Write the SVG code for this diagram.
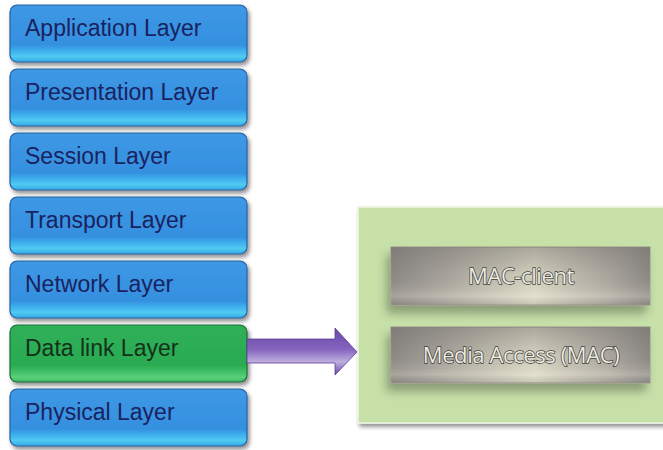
<svg xmlns="http://www.w3.org/2000/svg" width="663" height="450" viewBox="0 0 663 450">
<style>
.lbl{font-family:"Liberation Sans",Arial,sans-serif;font-size:23px;fill:#1a2260}
.dl{fill:#15301b}
.mac{font-family:"Open Sans","Liberation Sans",sans-serif;font-size:22px;fill:#ecebe2;stroke:#3e3d38;stroke-width:1.4;paint-order:stroke;text-anchor:middle;letter-spacing:-0.4px}
</style>
<defs>
<linearGradient id="gb" x1="0" y1="0" x2="0" y2="1">
<stop offset="0" stop-color="#3d98e4"/>
<stop offset="0.7" stop-color="#3590e0"/>
<stop offset="0.78" stop-color="#3aa8ea"/>
<stop offset="0.9" stop-color="#4ecbf2"/>
<stop offset="1" stop-color="#3aa6e4"/>
</linearGradient>
<linearGradient id="gg" x1="0" y1="0" x2="0" y2="1">
<stop offset="0" stop-color="#2fb058"/>
<stop offset="0.7" stop-color="#2aab52"/>
<stop offset="0.8" stop-color="#3cbc62"/>
<stop offset="0.92" stop-color="#5ad07a"/>
<stop offset="1" stop-color="#3cb662"/>
</linearGradient>
<linearGradient id="ga" x1="0" y1="0" x2="0" y2="1">
<stop offset="0" stop-color="#6a48a8"/>
<stop offset="0.45" stop-color="#8464be"/>
<stop offset="0.72" stop-color="#bfaede"/>
<stop offset="1" stop-color="#6a48a8"/>
</linearGradient>
<linearGradient id="gmh" x1="0" y1="0" x2="1" y2="0">
<stop offset="0" stop-color="#8e8a86"/>
<stop offset="0.15" stop-color="#a4a09a"/>
<stop offset="0.55" stop-color="#dedcc8"/>
<stop offset="0.85" stop-color="#aeaaa2"/>
<stop offset="1" stop-color="#8e8a86"/>
</linearGradient>
<linearGradient id="gmv" x1="0" y1="0" x2="0" y2="1">
<stop offset="0" stop-color="#6e6a66" stop-opacity="0.45"/>
<stop offset="0.5" stop-color="#6e6a66" stop-opacity="0.1"/>
<stop offset="0.85" stop-color="#f4f2e0" stop-opacity="0.25"/>
<stop offset="1" stop-color="#6e6a66" stop-opacity="0.2"/>
</linearGradient>
<filter id="sh" x="-10%" y="-10%" width="130%" height="140%">
<feGaussianBlur in="SourceAlpha" stdDeviation="2"/>
<feOffset dx="2" dy="3"/>
<feComponentTransfer><feFuncA type="linear" slope="0.45"/></feComponentTransfer>
<feMerge><feMergeNode/><feMergeNode in="SourceGraphic"/></feMerge>
</filter>
<filter id="sh2" x="-20%" y="-20%" width="140%" height="160%">
<feGaussianBlur in="SourceAlpha" stdDeviation="5"/>
<feOffset dx="-4" dy="8"/>
<feComponentTransfer><feFuncA type="linear" slope="0.3"/></feComponentTransfer>
<feMerge><feMergeNode/><feMergeNode in="SourceGraphic"/></feMerge>
</filter>
</defs>

<g id="application">
<rect x="10" y="5" width="237" height="57" rx="7" fill="url(#gb)" stroke="#2a5fa0" stroke-width="1.2" filter="url(#sh)"/>
<text class="lbl" x="25" y="36">Application Layer</text>
</g>
<g id="presentation">
<rect x="10" y="69" width="237" height="57" rx="7" fill="url(#gb)" stroke="#2a5fa0" stroke-width="1.2" filter="url(#sh)"/>
<text class="lbl" x="25" y="100">Presentation Layer</text>
</g>
<g id="session">
<rect x="10" y="133" width="237" height="57" rx="7" fill="url(#gb)" stroke="#2a5fa0" stroke-width="1.2" filter="url(#sh)"/>
<text class="lbl" x="25" y="164">Session Layer</text>
</g>
<g id="transport">
<rect x="10" y="197" width="237" height="57" rx="7" fill="url(#gb)" stroke="#2a5fa0" stroke-width="1.2" filter="url(#sh)"/>
<text class="lbl" x="25" y="228">Transport Layer</text>
</g>
<g id="network">
<rect x="10" y="261" width="237" height="57" rx="7" fill="url(#gb)" stroke="#2a5fa0" stroke-width="1.2" filter="url(#sh)"/>
<text class="lbl" x="25" y="292">Network Layer</text>
</g>
<g id="datalink">
<rect x="10" y="325" width="237" height="57" rx="7" fill="url(#gg)" stroke="#1f6a3a" stroke-width="1.2" filter="url(#sh)"/>
<text class="lbl dl" x="25" y="356">Data link Layer</text>
</g>
<g id="physical">
<rect x="10" y="389" width="237" height="57" rx="7" fill="url(#gb)" stroke="#2a5fa0" stroke-width="1.2" filter="url(#sh)"/>
<text class="lbl" x="25" y="420">Physical Layer</text>
</g>

<g id="mac-sublayers">
<rect x="358" y="207" width="310" height="216" fill="#c6e0a8" stroke="#eef6e2" stroke-width="1.5" filter="url(#sh)"/>
<g id="mac-client">
<rect x="391" y="247" width="259" height="58" fill="url(#gmh)" stroke="#9a968e" stroke-width="1" filter="url(#sh2)"/>
<rect x="391" y="247" width="259" height="58" fill="url(#gmv)"/>
<text class="mac" x="521" y="284">MAC-client</text>
</g>
<g id="media-access">
<rect x="391" y="327" width="259" height="56" fill="url(#gmh)" stroke="#9a968e" stroke-width="1" filter="url(#sh2)"/>
<rect x="391" y="327" width="259" height="56" fill="url(#gmv)"/>
<text class="mac" x="521" y="363">Media Access (MAC)</text>
</g>
</g>

<g id="connectors">
<path d="M247,339 L335,339 L335,328 L357,352 L335,375 L335,363 L247,363 Z" fill="url(#ga)" stroke="#5e3e98" stroke-width="0.8"/>
</g>
</svg>
